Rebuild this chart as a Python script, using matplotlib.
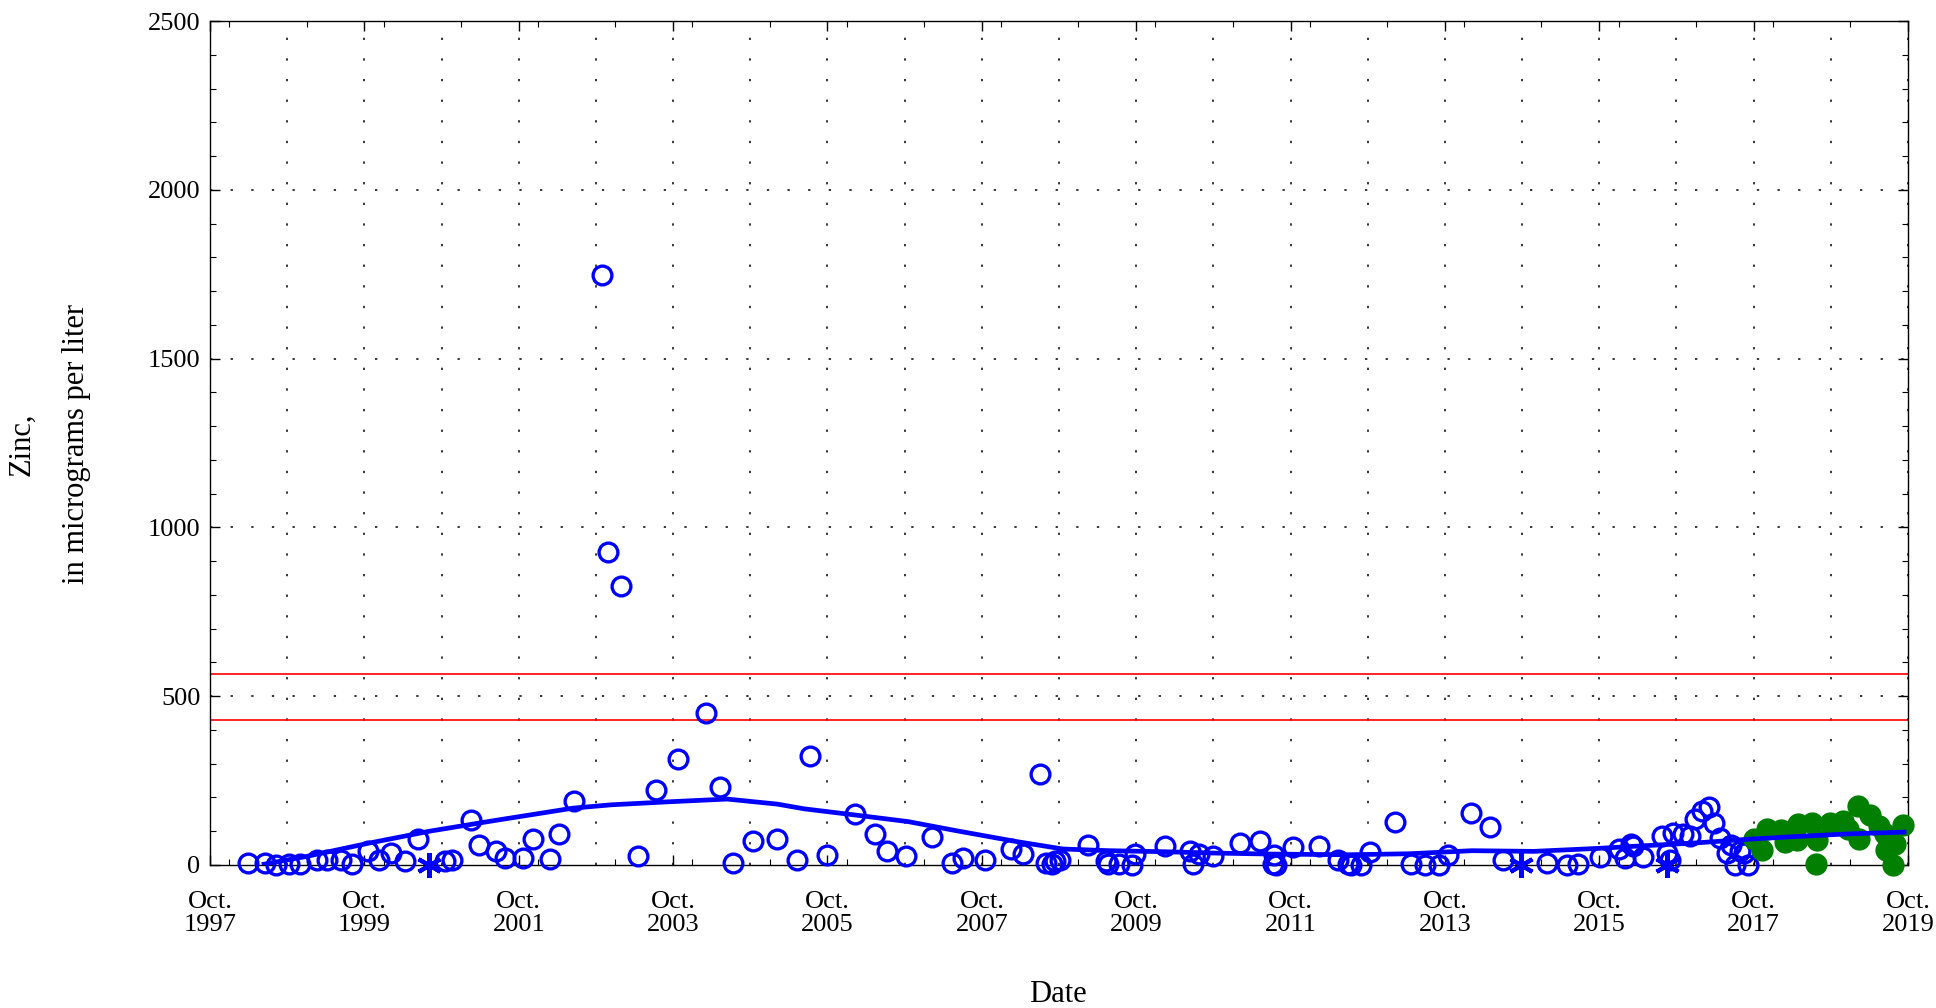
# -*- coding: utf-8 -*-
"""
Zinc concentration over time, with trend line and reference levels
"""

import matplotlib
matplotlib.use("Agg")
import matplotlib.pyplot as plt
from matplotlib.ticker import MultipleLocator
import numpy as np

# measured samples (decimal year, micrograms per liter)
blue_year = [1998.24, 1998.46, 1998.60, 1998.77, 1998.92, 1999.13, 1999.27, 1999.45,
             1999.59, 1999.80, 1999.94, 2000.10, 2000.27, 2000.45, 2000.80, 2000.89,
             2001.13, 2001.24, 2001.46, 2001.57, 2001.81, 2001.93, 2002.16, 2002.27,
             2002.46, 2002.83, 2002.90, 2003.08, 2003.30, 2003.53, 2003.81, 2004.18,
             2004.36, 2004.53, 2004.78, 2005.09, 2005.36, 2005.53, 2005.75, 2006.11,
             2006.37, 2006.52, 2006.77, 2007.10, 2007.36, 2007.51, 2007.79, 2008.13,
             2008.29, 2008.51, 2008.58, 2008.66, 2008.70, 2008.76, 2009.12, 2009.36,
             2009.39, 2009.53, 2009.69, 2009.74, 2010.12, 2010.45, 2010.48, 2010.56,
             2010.75, 2011.10, 2011.36, 2011.52, 2011.53, 2011.56, 2011.78, 2012.12,
             2012.37, 2012.50, 2012.54, 2012.66, 2012.78, 2013.11, 2013.31, 2013.49,
             2013.67, 2013.79, 2014.09, 2014.34, 2014.50, 2015.07, 2015.33, 2015.48,
             2015.76, 2016.00, 2016.08, 2016.16, 2016.19, 2016.32, 2016.56, 2016.63,
             2016.67, 2016.71, 2016.84, 2016.93, 2016.99, 2017.08, 2017.17, 2017.24,
             2017.32, 2017.40, 2017.46, 2017.51, 2017.58, 2017.62, 2017.68]
blue_zinc = [5, 5, 0, 3, 3, 15, 13, 13,
             3, 40, 15, 35, 10, 77, 10, 13,
             133, 58, 42, 20, 20, 78, 17, 90,
             190, 1749, 926, 826, 25, 222, 313, 450,
             232, 5, 72, 78, 13, 323, 28, 152,
             92, 40, 27, 82, 5, 20, 13, 48,
             33, 270, 5, 3, 10, 15, 60, 10,
             3, 3, 0, 33, 55, 40, 3, 33,
             27, 65, 70, 3, 30, 0, 53, 57,
             13, 3, 0, 0, 38, 128, 3, 0,
             0, 30, 155, 113, 13, 5, 0, 3,
             23, 47, 20, 63, 55, 23, 85, 35,
             15, 93, 90, 85, 135, 160, 170, 125,
             80, 35, 60, 0, 40, 35, 0]

# samples flagged as censored (asterisks)
star_year = [2000.59, 2014.74, 2016.63]
star_zinc = [0, 0, 0]

# recent samples
green_year = [2017.76, 2017.86, 2017.92, 2018.10, 2018.16, 2018.31, 2018.33, 2018.51,
              2018.56, 2018.57, 2018.74, 2018.91, 2018.97, 2019.10, 2019.11, 2019.26,
              2019.37, 2019.45, 2019.46, 2019.56, 2019.58, 2019.69]
green_zinc = [78, 45, 105, 103, 67, 75, 122, 125,
              3, 75, 125, 130, 105, 173, 77, 148,
              115, 90, 45, 0, 63, 117]

# fitted trend
trend_year = [1998.45, 1999.0, 1999.8, 2000.6, 2001.4, 2002.45, 2002.95, 2003.7,
              2004.45, 2005.1, 2005.45, 2006.1, 2006.8, 2007.4, 2008.2, 2008.8,
              2009.4, 2010.1, 2010.75, 2011.5, 2012.5, 2013.3, 2014.1, 2014.9,
              2015.75, 2016.2, 2017.0, 2017.75, 2018.3, 2019.0, 2019.7]
trend_zinc = [2, 25, 64, 100, 130, 168, 178, 187,
              195, 180, 166, 148, 128, 102, 69, 47,
              42, 39, 35, 32, 30, 33, 42, 40,
              49, 55, 65, 77, 84, 92, 97]

# reference levels
ref_levels = [565, 428]

x_tick_years = list(range(1997, 2020, 2))
y_ticks = [0, 500, 1000, 1500, 2000, 2500]

plt.rcParams['font.family'] = ['Liberation Serif', 'DejaVu Serif']

fig = plt.figure(figsize=(19.36, 10.08), dpi=100)
ax = fig.add_axes([0.1085, 0.142, 0.877, 0.837])

blue = '#0000ff'
green = '#007f00'

for lvl in ref_levels:
    ax.axhline(lvl, color='red', linewidth=1.2, zorder=2)

ax.plot(blue_year, blue_zinc, linestyle='none', marker='o', markersize=13.5,
        markerfacecolor='none', markeredgecolor=blue, markeredgewidth=2.4,
        clip_on=False, zorder=3)
ax.plot(star_year, star_zinc, linestyle='none', marker=(6, 2, 0), markersize=18,
        markeredgecolor=blue, markeredgewidth=3, clip_on=False, zorder=3)
ax.plot(green_year, green_zinc, linestyle='none', marker='o', markersize=15,
        markerfacecolor=green, markeredgecolor=green, clip_on=False, zorder=3)
ax.plot(trend_year, trend_zinc, color=blue, linewidth=3.4, zorder=4)

# axes limits and ticks (tick positions at October)
ax.set_xlim(1997.75, 2019.75)
ax.set_ylim(0, 2500)
ax.set_xticks([y + 0.75 for y in x_tick_years])
ax.set_xticklabels(["Oct.\n%d" % y for y in x_tick_years])
ax.xaxis.set_minor_locator(MultipleLocator(1.0))
ax.set_yticks(y_ticks)
ax.yaxis.set_minor_locator(MultipleLocator(100))
ax.tick_params(which='both', direction='in', top=True, right=True,
               labelsize=19)
ax.tick_params(which='major', length=7, width=1)
ax.tick_params(which='minor', length=4, width=0.8)
ax.tick_params(axis='x', pad=19)
ax.tick_params(axis='y', pad=7)
for lbl in ax.get_xticklabels():
    lbl.set_linespacing(1.05)

# dotted grid at every year and every 500
grid_kw = dict(color='black', linewidth=1.1, linestyle=(0, (1.5, 12)), zorder=1)
for yr in range(1998, 2020):
    ax.axvline(yr + 0.75, **grid_kw)
for yv in y_ticks[1:-1]:
    ax.axhline(yv, **grid_kw)

for sp in ax.spines.values():
    sp.set_linewidth(1.0)
    sp.set_color('black')

fig.text(0.5465, 0.013, "Date", ha='center', va='center', fontsize=22)
fig.text(0.0115, 0.5595, "Zinc,", rotation=90, ha='center', va='center', fontsize=22)
fig.text(0.0395, 0.5595, "in micrograms per liter", rotation=90, ha='center',
         va='center', fontsize=22)

fig.savefig("out.png", dpi=100)
